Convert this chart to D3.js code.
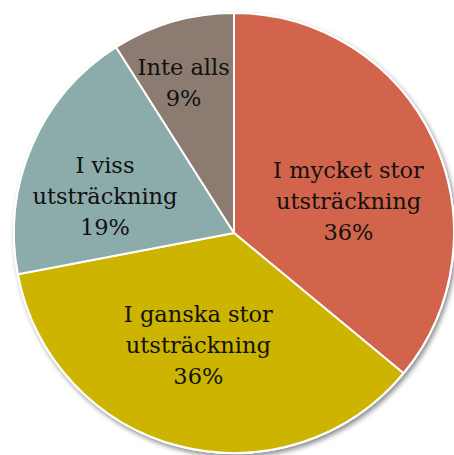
<!DOCTYPE html>
<html>
<head>
<meta charset="utf-8">
<script src="https://cdn.jsdelivr.net/npm/d3@7"></script>
<style>
  html, body { margin: 0; padding: 0; background: #fff; }
  svg { display: block; }
  text { font-family: "DejaVu Serif", Georgia, serif; fill: #111; }
</style>
</head>
<body>
<svg id="chart" width="454" height="455"></svg>
<script>
// Survey answers, clockwise from twelve o'clock
const categories = [
  "I mycket stor\nutsträckning",
  "I ganska stor\nutsträckning",
  "I viss\nutsträckning",
  "Inte alls"
];
const values = [36, 36, 19, 9];
const colors = ["#D1644B", "#CCB400", "#8BACAB", "#8C7B70"];

const W = 454, H = 455;
const cx = 234, cy = 233, R = 220;
const lineHeight = 31;
const fontSize = 22.5;

// Small pixel nudges so labels sit where the eye expects them
const labelNudge = [[3, 20], [-5, -7], [-16, 12], [-16, -32]];

const svg = d3.select("#chart");

const defs = svg.append("defs");
const shadow = defs.append("filter").attr("id", "shadow")
  .attr("x", "-10%").attr("y", "-10%").attr("width", "120%").attr("height", "120%");
shadow.append("feDropShadow")
  .attr("dx", 2).attr("dy", 3).attr("stdDeviation", 2.5)
  .attr("flood-color", "#000").attr("flood-opacity", 0.45);

const data = categories.map((c, i) => ({ name: c, value: values[i], color: colors[i] }));

const pie = d3.pie().value(d => d.value).sort(null);
const arcs = pie(data);
const arc = d3.arc().innerRadius(0).outerRadius(R);
const labelArc = d3.arc().innerRadius(R * 0.56).outerRadius(R * 0.56);

const g = svg.append("g").attr("transform", `translate(${cx},${cy})`);

// Shadowed backing disc
g.append("circle").attr("r", R).attr("fill", "#fff")
  .attr("stroke", "#fff").attr("stroke-width", 2)
  .attr("filter", "url(#shadow)");

g.selectAll("path.slice")
  .data(arcs)
  .join("path")
  .attr("class", "slice")
  .attr("d", arc)
  .attr("fill", d => d.data.color)
  .attr("stroke", "#fff")
  .attr("stroke-width", 2)
  .attr("stroke-linejoin", "round");

const labels = g.selectAll("text.label")
  .data(arcs)
  .join("text")
  .attr("class", "label")
  .attr("text-anchor", "middle")
  .attr("font-size", fontSize)
  .attr("transform", (d, i) => {
    const [x, y] = labelArc.centroid(d);
    return `translate(${x + labelNudge[i][0]},${y + labelNudge[i][1]})`;
  });

labels.each(function (d) {
  const lines = d.data.name.split("\n").concat([d.data.value + "%"]);
  const n = lines.length;
  d3.select(this).selectAll("tspan")
    .data(lines)
    .join("tspan")
    .attr("x", 0)
    .attr("y", (l, j) => (j - (n - 1) / 2) * lineHeight + 8)
    .text(l => l);
});
</script>
</body>
</html>
